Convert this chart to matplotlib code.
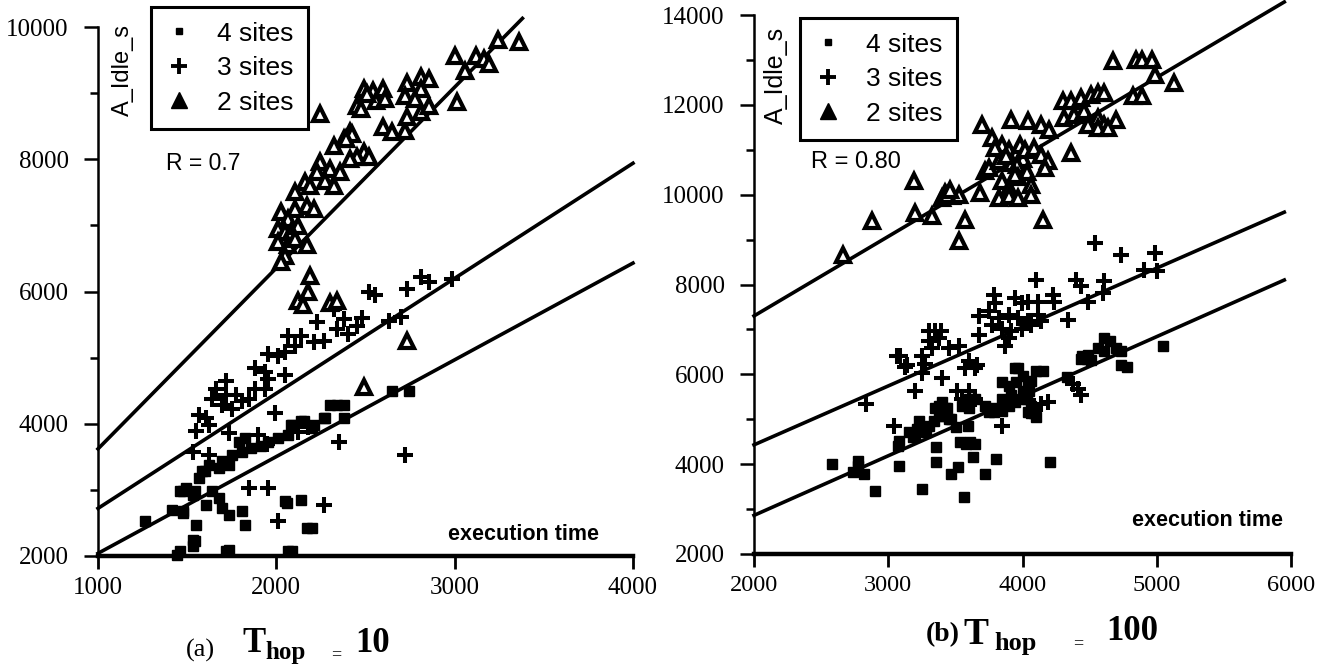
import matplotlib
matplotlib.use('Agg')
import matplotlib.pyplot as plt
from matplotlib.lines import Line2D

W, H = 1319, 665

# ---- (a) Thop = 10 ----
a4_x = [1265, 1414, 1474, 1474, 1474, 1546, 1496, 1458, 1530, 1441, 1458, 1546, 1530, 1530, 1552,
        1601, 1585, 1568, 1623, 1640, 1679, 1607, 1695, 1734, 1805, 1827, 1717, 1734, 1695, 1734,
        1679, 1750, 1805, 1860, 1916, 1789, 1827, 1954, 2009, 2064, 2081, 2136, 2213, 2153, 2087,
        2202, 2269, 2379, 2274, 2300, 2340, 2379, 2650, 2742, 2048, 2136, 2059, 2174, 2202, 2064,
        2087]
a4_y = [2530, 2690, 2650, 2680, 2980, 2980, 3030, 2980, 2920, 2020, 2080, 2230, 2150, 2240, 2470,
        3280, 3280, 3180, 3370, 2980, 2870, 2770, 2720, 2620, 2680, 2470, 2080, 2090, 3430, 3370,
        3330, 3520, 3580, 3630, 3670, 3730, 3780, 3730, 3780, 3830, 3980, 4040, 3980, 4040, 3980,
        3930, 4080, 4080, 4080, 4280, 4280, 4280, 4490, 4490, 2830, 2850, 2800, 2420, 2420, 2080,
        2080]

a3_x = [1530, 1623, 1552, 1568, 1607, 1623, 1640, 1695, 1750, 1662, 1717, 1717, 1772, 1805, 1844,
        1734, 1899, 1882, 1938, 1882, 1938, 1954, 2048, 1954, 2009, 2048, 2064, 2136, 2213, 2103,
        2230, 2324, 2379, 2450, 2340, 2517, 2555, 2731, 2813, 2857, 2985, 1993, 2351, 2720, 1844,
        1954, 2269, 2009, 2120, 2180, 1950, 2270, 2400, 2480, 2630, 2700]
a3_y = [3580, 3520, 3890, 4130, 4080, 3980, 4380, 4280, 4230, 4530, 4640, 4430, 4430, 4340, 4380,
        3860, 3830, 4530, 4530, 4840, 4790, 4680, 4730, 5060, 5020, 5090, 5330, 5330, 5240, 5180,
        5540, 5740, 5590, 5480, 5440, 6000, 5940, 6040, 6220, 6150, 6190, 4160, 3730, 3530, 3030,
        3030, 2770, 2530, 3870, 3950, 3700, 5250, 5350, 5600, 5560, 5620]

a2_x = [2247, 2489, 2544, 2600, 2450, 2561, 2600, 2650, 2720, 2412, 2379, 2324, 2489, 2450, 2412,
        2517, 2247, 2302, 2357, 2230, 2274, 2324, 2158, 2191, 2103, 2174, 2103, 2213, 2026, 2064,
        2009, 2048, 2081, 2120, 2009, 2064, 2103, 2174, 2048, 2026, 2191, 2120, 2180, 2150, 2302,
        2340, 2489, 2730, 2731, 2813, 2857, 2813, 2720, 2776, 2813, 2857, 2731, 2506, 2611, 2473,
        2423, 2390, 3000, 3118, 3163, 3190, 3245, 3361, 3057, 3013]
a2_y = [8680, 9060, 9030, 9060, 8800, 8880, 8490, 8410, 8430, 8410, 8300, 8200, 8110, 8030, 8000,
        8030, 7960, 7850, 7810, 7810, 7670, 7600, 7650, 7600, 7500, 7300, 7250, 7250, 7200, 7100,
        6950, 6900, 6900, 6990, 6750, 6700, 6800, 6700, 6540, 6450, 6240, 5860, 6000, 5800, 5820,
        5850, 4560, 5250, 9160, 9240, 9210, 9060, 8950, 8910, 8710, 8800, 8640, 8980, 8910, 8760,
        8380, 8300, 9560, 9560, 9510, 9440, 9810, 9770, 9330, 8860]

a4_fit_x = [1000, 4000]
a4_fit_y = [2040, 6430]
a3_fit_x = [1000, 4000]
a3_fit_y = [2720, 7940]
a2_fit_x = [1000, 3380]
a2_fit_y = [3620, 10130]

# ---- (b) Thop = 100 ----
b4_x = [2580, 2773, 2773, 2818, 2736, 2900, 3078, 3071, 3078, 3249, 3182, 3212, 3279, 3338, 3152,
        3197, 3227, 3249, 3301, 3353, 3353, 3405, 3435, 3375, 3465, 3502, 3398, 3346, 3420, 3376,
        3450, 3465, 3517, 3561, 3576, 3643, 3628, 3532, 3606, 3591, 3643, 3598, 3546, 3598, 3717,
        3799, 3591, 3717, 3784, 3844, 3747, 3792, 3911, 3941, 4007, 4037, 4067, 3844, 3896, 3955,
        4007, 3970, 4067, 3844, 3896, 4044, 4052, 3993, 4149, 4104, 3941, 4067, 4097, 4044, 4089,
        4335, 4446, 4483, 4513, 4610, 4654, 4610, 4565, 4491, 4439, 4736, 4699, 4781, 4736, 5048,
        4208]
b4_y = [4010, 4080, 3960, 3790, 3830, 3410, 3960, 4410, 4520, 3450, 4610, 4790, 4720, 4950, 4720,
        4630, 4950, 4790, 4860, 4390, 4050, 5080, 5240, 5300, 5010, 4830, 5390, 5240, 5240, 5080,
        5010, 3790, 3940, 3270, 4460, 4460, 4170, 4500, 4500, 5350, 5460, 5460, 5300, 5240, 3790,
        4120, 4860, 5300, 5170, 5190, 5170, 5240, 5530, 5390, 5620, 5460, 5300, 5460, 5300, 5840,
        5970, 6130, 5860, 5840, 5750, 5840, 5620, 5460, 6080, 6080, 6130, 5130, 5060, 5170, 5150,
        5950, 6400, 6350, 6310, 6510, 6750, 6800, 6580, 6420, 6350, 6530, 6580, 6170, 6200, 6620,
        4050]

b3_x = [2833, 3041, 3085, 3138, 3063, 3123, 3197, 3249, 3271, 3249, 3301, 3346, 3301, 3376, 3323,
        3390, 3398, 3450, 3524, 3598, 3643, 3569, 3658, 3509, 3598, 3643, 3546, 3673, 3673, 3747,
        3822, 3896, 3970, 4044, 4119, 4141, 3770, 3844, 3918, 3993, 4067, 3866, 3896, 3784, 3792,
        3941, 3993, 4044, 4119, 3844, 4104, 4230, 4238, 4342, 4401, 4439, 4491, 4610, 4602, 4543,
        4736, 4989, 4907, 5004, 4141, 4193, 4089, 4379, 4416, 4439]
b3_y = [5350, 4860, 6400, 6200, 6400, 6170, 5640, 6400, 6240, 6020, 6960, 6960, 6750, 6800, 6580,
        6960, 5910, 6580, 6640, 6290, 6130, 6130, 6200, 5620, 5620, 5460, 5460, 6870, 7290, 7400,
        7250, 7310, 7250, 7180, 7310, 7180, 7090, 7020, 6960, 7020, 7090, 6640, 6800, 7760, 7580,
        7690, 7580, 7620, 7620, 4840, 8090, 7760, 7620, 7200, 8090, 7960, 7620, 8070, 7800, 8920,
        8650, 8700, 8320, 8290, 5350, 5390, 5300, 5790, 5680, 5530]

b2_x = [2660, 2877, 3190, 3197, 3323, 3420, 3398, 3472, 3524, 3440, 3460, 3569, 3524, 3680, 3695,
        3717, 3747, 3822, 3770, 3844, 3792, 3918, 4044, 3900, 3950, 3980, 4000, 3920, 4020, 3960,
        3880, 4030, 3970, 4089, 4141, 4193, 4164, 4141, 4201, 3844, 3896, 3941, 3822, 3896, 3970,
        4067, 4067, 4156, 4364, 4305, 4364, 4439, 4513, 4565, 4610, 4312, 4387, 4461, 4565, 4610,
        4699, 4491, 4565, 4639, 4677, 4848, 4892, 4966, 4825, 4892, 4989, 5130]
b2_y = [8650, 9410, 10300, 9590, 9520, 10040, 9920, 9970, 9990, 10000, 10100, 9430, 8960, 10040, 11550,
        10530, 10590, 10750, 11260, 11110, 11040, 11670, 11640, 11000, 10900, 11100, 10800, 10700, 11000, 10650,
        10850, 10500, 10400, 11040, 10880, 10750, 10590, 11550, 11440, 10300, 10150, 10440, 9920, 9970, 9920,
        10210, 9990, 9430, 10930, 12090, 12090, 12160, 12220, 12270, 12270, 11710, 11780, 11870, 11710, 11550,
        11670, 11550, 11490, 11490, 12980, 13000, 13000, 13000, 12200, 12200, 12670, 12490]

b4_fit_x = [2000, 5950]
b4_fit_y = [2860, 8100]
b3_fit_x = [2000, 5950]
b3_fit_y = [4430, 9610]
b2_fit_x = [2000, 5950]
b2_fit_y = [7300, 14290]

labels = ['4 sites', '3 sites', '2 sites']

plt.rcParams['font.family'] = 'Liberation Serif'


def fx(px):
    return px / W


def fy(py):
    return 1 - py / H


def draw_panel(ax, s4, s3, s2, fits, ms):
    for fx_, fy_ in fits:
        ax.plot(fx_, fy_, color='black', lw=2.6, clip_on=False, zorder=2)
    ax.plot(s4[0], s4[1], ls='none', marker='s', ms=ms[0], color='black', clip_on=False, zorder=3)
    ax.plot(s3[0], s3[1], ls='none', marker='+', ms=ms[1], mew=2.9, color='black', clip_on=False, zorder=3)
    ax.plot(s2[0], s2[1], ls='none', marker='^', ms=ms[2], mfc='white', mec='black', mew=3.0,
            clip_on=False, zorder=3)
    for side in ['top', 'right']:
        ax.spines[side].set_visible(False)
    ax.spines['left'].set_linewidth(1.8)
    ax.spines['bottom'].set_linewidth(3.2)
    ax.tick_params(axis='x', which='major', direction='out', length=9, width=2, pad=6, labelsize=18)
    ax.tick_params(axis='y', which='major', direction='out', length=10, width=1.8, pad=11, labelsize=18)
    ax.tick_params(axis='y', which='minor', direction='out', length=6, width=1.8)


def draw_legend(fig, x0, y0):
    handles = [
        Line2D([], [], ls='none', marker='s', ms=4.5, color='black'),
        Line2D([], [], ls='none', marker='+', ms=12, mew=2.8, color='black'),
        Line2D([], [], ls='none', marker='^', ms=11, color='black'),
    ]
    leg = fig.legend(handles, labels, loc='upper left', bbox_to_anchor=(fx(x0), fy(y0)),
                     bbox_transform=fig.transFigure, borderaxespad=0, fancybox=False,
                     edgecolor='black', framealpha=1, borderpad=0.55, handlelength=1.0,
                     handletextpad=0.95, labelspacing=0.4,
                     prop={'family': 'Liberation Sans', 'size': 19})
    leg.get_frame().set_linewidth(2.2)
    return leg


fig = plt.figure(figsize=(W / 100, H / 100), dpi=100, facecolor='white')

# left panel
ax1 = fig.add_axes([fx(98), fy(556), fx(633) - fx(98), fy(27) - fy(556)])
draw_panel(ax1, (a4_x, a4_y), (a3_x, a3_y), (a2_x, a2_y),
           [(a4_fit_x, a4_fit_y), (a3_fit_x, a3_fit_y), (a2_fit_x, a2_fit_y)], (6.5, 11, 10.5))
ax1.set_xlim(1000, 4000)
ax1.set_ylim(2000, 10000)
ax1.set_xticks([1000, 2000, 3000, 4000])
ax1.set_yticks([2000, 4000, 6000, 8000, 10000])
ax1.set_yticks([3000, 5000, 7000, 9000], minor=True)

# right panel
ax2 = fig.add_axes([fx(754), fy(554), fx(1291) - fx(754), fy(15) - fy(554)])
draw_panel(ax2, (b4_x, b4_y), (b3_x, b3_y), (b2_x, b2_y),
           [(b4_fit_x, b4_fit_y), (b3_fit_x, b3_fit_y), (b2_fit_x, b2_fit_y)], (7, 11, 10.5))
ax2.set_xlim(2000, 6000)
ax2.set_ylim(2000, 14000)
ax2.set_xticks([2000, 3000, 4000, 5000, 6000])
ax2.set_yticks([2000, 4000, 6000, 8000, 10000, 12000, 14000])
ax2.set_yticks([3000, 5000, 7000, 9000, 11000, 13000], minor=True)
ax2.tick_params(axis='x', labelsize=17.5)
for tick in ax2.yaxis.get_major_ticks():
    if tick.get_loc() >= 10000:
        tick.label1.set_fontfamily('DejaVu Sans')
        tick.label1.set_fontweight('bold')
        tick.label1.set_fontsize(12.5)

draw_legend(fig, 151, 7)
draw_legend(fig, 800, 18)

sans = 'Liberation Sans'
fig.text(fx(123), fy(70), 'A_Idle_s', rotation=90, ha='center', va='center', family=sans, fontsize=17)
fig.text(fx(776), fy(75), 'A_Idle_s', rotation=90, ha='center', va='center', family=sans, fontsize=18)
fig.text(fx(166), fy(163), 'R = 0.7', ha='left', va='center', family=sans, fontsize=16.5)
fig.text(fx(811), fy(162), 'R = 0.80', ha='left', va='center', family=sans, fontsize=17)
fig.text(fx(524), fy(535), 'execution time', ha='center', va='center', family=sans,
         fontsize=15.5, fontweight='bold')
fig.text(fx(1208), fy(520), 'execution time', ha='center', va='center', family=sans,
         fontsize=15.5, fontweight='bold')

# captions
serif = 'Liberation Serif'
fig.text(fx(186), fy(657), '(a)', ha='left', va='baseline', family=serif, fontsize=19)
fig.text(fx(242), fy(652), 'T', ha='left', va='baseline', family=serif, fontsize=25, fontweight='bold')
fig.text(fx(265), fy(659), 'hop', ha='left', va='baseline', family=serif, fontsize=18, fontweight='bold')
fig.text(fx(331), fy(659), '=', ha='left', va='baseline', family=serif, fontsize=13)
fig.text(fx(355), fy(652), '10', ha='left', va='baseline', family=serif, fontsize=25, fontweight='bold')

fig.text(fx(926), fy(641), '(b)', ha='left', va='baseline', family=serif, fontsize=20, fontweight='bold')
fig.text(fx(963), fy(644), 'T', ha='left', va='baseline', family=serif, fontsize=27, fontweight='bold')
fig.text(fx(994), fy(650), 'hop', ha='left', va='baseline', family=serif, fontsize=19, fontweight='bold')
fig.text(fx(1073), fy(648), '=', ha='left', va='baseline', family=serif, fontsize=13)
fig.text(fx(1106), fy(640), '100', ha='left', va='baseline', family=serif, fontsize=25, fontweight='bold')

fig.savefig('out.png', dpi=100, facecolor='white')
